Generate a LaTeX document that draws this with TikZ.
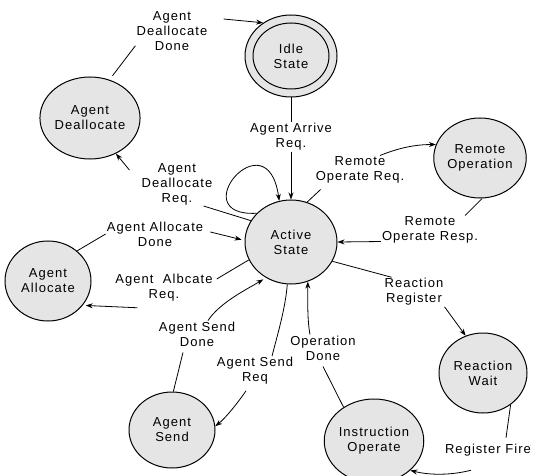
\documentclass[tikz,border=0pt]{standalone}
\usepackage{fontspec}
\setmainfont{Liberation Sans}[LetterSpace=8]
\usetikzlibrary{arrows.meta,shapes.geometric}
\tikzset{
  stateov/.style={ellipse, draw, fill=black!10, line width=1pt, align=center, inner sep=0pt},
  lbl/.style={align=center, inner sep=1pt},
  conn/.style={line width=0.8pt},
  arr/.style={conn, -{Stealth[length=7pt,width=5pt]}},
}
\begin{document}
\begin{tikzpicture}[x=1pt,y=-1pt, font=\fontsize{13}{15}\selectfont]
\useasboundingbox (0,0) rectangle (533,476);
\fill[white] (0,0) rectangle (533,476);
% states
\node[stateov, minimum width=92pt, minimum height=82pt] (idle) at (291,56) {Idle\\State};
\node[ellipse, draw, line width=1pt, minimum width=76pt, minimum height=66pt] (idlein) at (291,56) {};
\node[stateov, minimum width=90pt, minimum height=82pt] (dealloc) at (90,118) {Agent\\Deallocate};
\node[stateov, minimum width=92pt, minimum height=84pt] (active) at (291,242) {Active\\State};
\node[stateov, minimum width=92pt, minimum height=80pt] (remop) at (480,158) {Remote\\Operation};
\node[stateov, minimum width=86pt, minimum height=80pt] (alloc) at (48,281) {Agent\\Allocate};
\node[stateov, minimum width=86pt, minimum height=76pt] (send) at (172,430) {Agent\\Send};
\node[stateov, minimum width=88pt, minimum height=84pt] (instr) at (374,441) {Instruction\\Operate};
\node[stateov, minimum width=88pt, minimum height=80pt] (rwait) at (483,373) {Reaction\\Wait};
% labels
\node[lbl] (lDeallocDone) at (172,31) {Agent\\Deallocate\\Done};
\node[lbl] (lArrive) at (291,137) {Agent Arrive\\Req.};
\node[lbl] (lRemReq) at (360,170) {Remote\\Operate Req.};
\node[lbl] (lRemResp) at (430,230) {Remote\\Operate Resp.};
\node[lbl] (lDeallocReq) at (177,184) {Agent\\Deallocate\\Req.};
\node[lbl] (lAllocDone) at (155,234) {Agent Allocate\\Done};
\node[lbl] (lAllocReq) at (164,288) {Agent\ \ Albcate\\Req.};
\node[lbl] (lSendDone) at (197,334) {Agent Send\\Done};
\node[lbl] (lSendReq) at (255,371) {Agent Send\\Req};
\node[lbl] (lOpDone) at (323,348) {Operation\\Done};
\node[lbl] (lRegister) at (414,292) {Reaction\\Register};
\node[lbl] (lFire) at (488,450) {Register Fire};
% connectors
\draw[arr] ([xshift=15pt,yshift=12pt]lDeallocDone.east) -- (idle.130);
\draw[conn, shorten <=5pt] (dealloc.63) -- ([yshift=6pt]lDeallocDone.south west);
\draw[conn] (idle.south) -- (lArrive.north);
\draw[arr] (lArrive.south) -- (active.north);
\draw[conn] (active.68) -- ([xshift=6pt,yshift=-5pt]lRemReq.south west);
\draw[arr] ([xshift=20pt]lRemReq.north) .. controls +(20,-8) and +(-20,0) .. (remop.163);
\draw[conn] (remop.-87) -- ([xshift=-14pt]lRemResp.north east);
\draw[arr] ([yshift=3pt]lRemResp.south west) -- (active.east);
\draw[arr] (active.140) .. controls +(-75,4) and +(-12,-85) .. (active.106);
\draw[conn] (active.152) -- ([xshift=-10pt]lDeallocReq.south east);
\draw[arr] ([xshift=-11pt,yshift=-8pt]lDeallocReq.north west) -- (dealloc.-54);
\draw[arr, shorten >=3pt] ([xshift=6pt,yshift=2pt]lAllocDone.east) -- (active.178);
\draw[conn] (alloc.46) -- (lAllocDone.west);
\draw[conn] (active.203) -- ([xshift=3pt,yshift=9pt]lAllocReq.east);
\draw[arr, shorten >=3pt] ([xshift=23pt,yshift=-5pt]lAllocReq.south west) -- (alloc.-35);
\draw[arr, shorten >=3pt] ([xshift=11pt]lSendDone.north) .. controls +(12,-18) and +(-20,12) .. (active.235);
\draw[conn] (send.88) -- ([xshift=-14pt,yshift=-5pt]lSendDone.south);
\draw[conn] (active.-95) .. controls +(-2,25) and +(5,-20) .. ([xshift=17pt]lSendReq.north);
\draw[arr] ([xshift=-9pt,yshift=-5pt]lSendReq.south) .. controls +(-8,12) and +(10,-8) .. (send.5);
\draw[arr] ([xshift=-13pt]lOpDone.north) .. controls +(-3,-15) and +(0,12) .. (active.-67);
\draw[conn] (instr.132) -- ([yshift=-5pt]lOpDone.south);
\draw[conn] (active.-25) -- ([xshift=8pt]lRegister.north west);
\draw[arr] (lRegister.south east) -- (rwait.115);
\draw[conn] (rwait.-49) -- ([xshift=18pt,yshift=5pt]lFire.north);
\draw[arr] ([xshift=-17pt,yshift=-13pt]lFire.south) .. controls +(-20,5) and +(20,5) .. (instr.-39);
\end{tikzpicture}
\end{document}
